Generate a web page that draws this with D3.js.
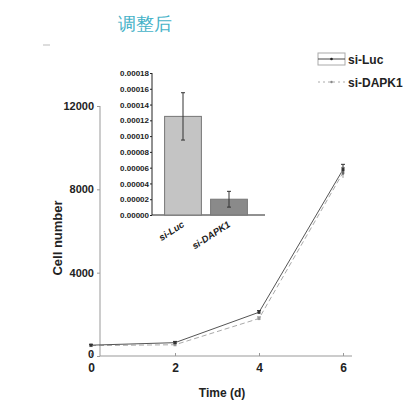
<!DOCTYPE html>
<html>
<head>
<meta charset="utf-8">
<script src="https://cdn.jsdelivr.net/npm/d3@7"></script>
<style>
  body { margin: 0; background: #fff; }
  text { font-family: "Liberation Sans", Arial, sans-serif; }
</style>
</head>
<body>
<div id="chart"></div>
<script>
// growth curve data
const days = [0, 2, 4, 6];
const lucValues = [520, 640, 2100, 8950];
const dapkValues = [500, 540, 1800, 8800];
const lucErr = [40, 60, 80, 250];
const dapkErr = [40, 60, 80, 250];
const yTicks = [0, 4000, 8000, 12000];
const xTicks = [0, 2, 4, 6];

// inset bar data
const barGroups = ["si-Luc", "si-DAPK1"];
const barValues = [0.000125, 0.00002];
const barErr = [0.00003, 0.00001];
const barColors = ["#c4c4c4", "#8a8a8a"];
const insetTicks = d3.range(0, 0.00019, 0.00002);

const svg = d3.select("#chart").append("svg")
    .attr("width", 420)
    .attr("height", 420);

// title
svg.append("text")
    .attr("x", 118).attr("y", 30)
    .attr("font-family", "Noto Sans CJK SC")
    .attr("font-size", 18)
    .attr("fill", "#45b2c8")
    .text("调整后");

// little stray dash top-left
svg.append("line")
    .attr("x1", 43).attr("x2", 50).attr("y1", 45).attr("y2", 45)
    .attr("stroke", "#bbb");

// main chart scales
const x = d3.scaleLinear().domain([0, 6]).range([91, 343]);
const y = d3.scaleLinear().domain([0, 12000]).range([356, 106]);

// axes
const yAxis = svg.append("g")
    .attr("transform", "translate(100,0)")
    .call(d3.axisLeft(y).tickValues(yTicks).tickSize(3).tickFormat(d3.format("d")));
yAxis.select(".domain").attr("stroke", "#999").attr("d", "M0," + y(12000) + "V" + y(0));
yAxis.selectAll(".tick line").attr("stroke", "#999");
yAxis.selectAll(".tick text")
    .attr("font-size", 11).attr("font-weight", "bold").attr("fill", "#222")
    .attr("font-family", "Liberation Sans Narrow, Liberation Sans, sans-serif");
yAxis.selectAll(".tick text").filter(d => d === 0).attr("dy", "0.1em");

const xAxis = svg.append("g")
    .attr("transform", "translate(0,356)")
    .call(d3.axisBottom(x).tickValues(xTicks).tickSize(3).tickFormat(d3.format("d")));
xAxis.select(".domain").attr("stroke", "#999").attr("d", "M100,0H352");
xAxis.selectAll(".tick line").attr("stroke", "#999").attr("y1", -3).attr("y2", 0);
xAxis.selectAll(".tick text")
    .attr("font-size", 12).attr("font-weight", "bold").attr("fill", "#222")
    .attr("y", 7).attr("dy", "0.71em")
    .attr("font-family", "Liberation Sans Narrow, Liberation Sans, sans-serif");

svg.append("text")
    .attr("x", 222).attr("y", 397)
    .attr("text-anchor", "middle")
    .attr("font-size", 12).attr("font-weight", "bold").attr("fill", "#222")
    .text("Time (d)");

svg.append("text")
    .attr("transform", "translate(62,238) rotate(-90)")
    .attr("text-anchor", "middle")
    .attr("font-size", 13).attr("font-weight", "bold").attr("fill", "#222")
    .text("Cell number");

// lines
const line = d3.line().x((d, i) => x(days[i])).y(d => y(d));

svg.append("path")
    .datum(dapkValues)
    .attr("d", line)
    .attr("fill", "none")
    .attr("stroke", "#aaa")
    .attr("stroke-width", 1)
    .attr("stroke-dasharray", "5,3");

svg.append("path")
    .datum(lucValues)
    .attr("d", line)
    .attr("fill", "none")
    .attr("stroke", "#555")
    .attr("stroke-width", 1);

// error bars + markers
[[dapkValues, dapkErr, "#999"], [lucValues, lucErr, "#333"]].forEach(([vals, errs, col]) => {
    const g = svg.append("g");
    vals.forEach((v, i) => {
        g.append("line")
            .attr("x1", x(days[i])).attr("x2", x(days[i]))
            .attr("y1", y(v - errs[i])).attr("y2", y(v + errs[i]))
            .attr("stroke", col);
        g.append("line")
            .attr("x1", x(days[i]) - 2).attr("x2", x(days[i]) + 2)
            .attr("y1", y(v + errs[i])).attr("y2", y(v + errs[i]))
            .attr("stroke", col);
        g.append("rect")
            .attr("x", x(days[i]) - 1.5).attr("y", y(v) - 1.5)
            .attr("width", 3).attr("height", 3)
            .attr("fill", col);
    });
});

// legend
const lg = svg.append("g");
lg.append("rect")
    .attr("x", 318).attr("y", 53).attr("width", 27).attr("height", 12)
    .attr("fill", "none").attr("stroke", "#aaa");
lg.append("line")
    .attr("x1", 318).attr("x2", 345).attr("y1", 59).attr("y2", 59)
    .attr("stroke", "#444");
lg.append("circle").attr("cx", 331.5).attr("cy", 59).attr("r", 1.3).attr("fill", "#222");
lg.append("line")
    .attr("x1", 318).attr("x2", 345).attr("y1", 82).attr("y2", 82)
    .attr("stroke", "#aaa").attr("stroke-dasharray", "2,3");
lg.append("circle").attr("cx", 331.5).attr("cy", 82).attr("r", 1.3).attr("fill", "#888");
lg.selectAll("text.leg")
    .data(barGroups)
    .enter().append("text")
    .attr("class", "leg")
    .attr("x", 348)
    .attr("y", (d, i) => 64 + i * 23)
    .attr("font-size", 12).attr("font-weight", "bold").attr("fill", "#222")
    .text(d => d);

// inset bar chart
const ix = d3.scaleBand().domain(barGroups).range([160, 252]).paddingInner(0.2).paddingOuter(0.1);
const iy = d3.scaleLinear().domain([0, 0.00018]).range([215, 73]);

const iyAxis = svg.append("g")
    .attr("transform", "translate(152,0)")
    .call(d3.axisLeft(iy).tickValues(insetTicks).tickSize(2).tickFormat(d3.format(".5f")));
iyAxis.select(".domain").attr("stroke", "#222").attr("d", "M0," + iy(0.00018) + "V" + iy(0));
iyAxis.selectAll(".tick line").attr("stroke", "#222");
iyAxis.selectAll(".tick text")
    .attr("font-size", 8).attr("font-weight", "bold").attr("fill", "#222").attr("x", -3)
    .attr("font-family", "Liberation Sans Narrow, Liberation Sans, sans-serif");

svg.append("line")
    .attr("x1", 152).attr("x2", 265).attr("y1", iy(0)).attr("y2", iy(0))
    .attr("stroke", "#222");

svg.selectAll("rect.bar")
    .data(barValues)
    .enter().append("rect")
    .attr("class", "bar")
    .attr("x", (d, i) => ix(barGroups[i]))
    .attr("y", d => iy(d))
    .attr("width", ix.bandwidth())
    .attr("height", d => iy(0) - iy(d))
    .attr("fill", (d, i) => barColors[i])
    .attr("stroke", "#777");

barValues.forEach((v, i) => {
    const cx = ix(barGroups[i]) + ix.bandwidth() / 2;
    svg.append("line")
        .attr("x1", cx).attr("x2", cx)
        .attr("y1", iy(v - barErr[i])).attr("y2", iy(v + barErr[i]))
        .attr("stroke", "#333");
    [v - barErr[i], v + barErr[i]].forEach(e => {
        svg.append("line")
            .attr("x1", cx - 2).attr("x2", cx + 2)
            .attr("y1", iy(e)).attr("y2", iy(e))
            .attr("stroke", "#333");
    });
    svg.append("text")
        .attr("transform", `translate(${cx + 2},${iy(0) + 11}) rotate(-33)`)
        .attr("text-anchor", "end")
        .attr("font-size", 9.5).attr("font-weight", "bold").attr("font-style", "italic")
        .attr("fill", "#222")
        .text(barGroups[i]);
});
</script>
</body>
</html>
